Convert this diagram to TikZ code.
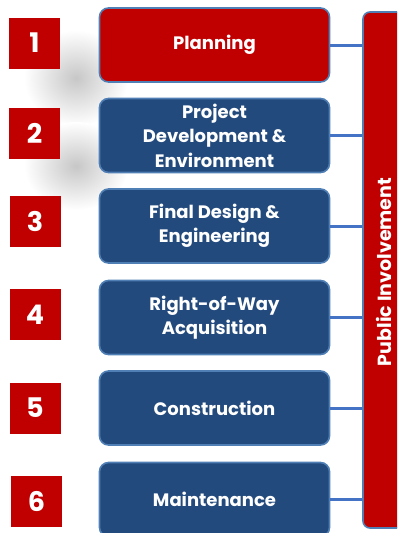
\documentclass[tikz,border=0pt]{standalone}
\usepackage{fontspec}
\setsansfont{Poppins}
\usetikzlibrary{shadings}

\definecolor{stepred}{HTML}{C00000}
\definecolor{stepblue}{HTML}{234A7D}
\definecolor{edgeblue}{HTML}{4F7FB5}
\definecolor{linkblue}{HTML}{4472C4}

\tikzset{
	phase/.style={draw=edgeblue, line width=1.6pt, fill=stepblue, rounded corners=9pt,
		minimum width=230pt, minimum height=74pt, text=white, align=center,
		font=\sffamily\bfseries\fontsize{18}{24.5}\selectfont},
	numbox/.style={fill=stepred, minimum width=51pt, minimum height=51pt, inner sep=0pt,
		text=white, font=\sffamily\bfseries\fontsize{27}{28}\selectfont},
	link/.style={draw=linkblue, line width=3pt}
}

\begin{document}
\begin{tikzpicture}[x=1pt, y=-1pt]

	\useasboundingbox (0,0) rectangle (397,533);
	\clip (0,0) rectangle (397,533);

	% soft shadows behind the numbers
	\shade[inner color=black!22, outer color=white] (76,78) ellipse (52pt and 48pt);
	\shade[inner color=black!22, outer color=white] (76,166) ellipse (52pt and 44pt);

	% phases
	\node[phase, fill=stepred] (plan) at (214.5,45) {Planning};
	\node[phase] (pde) at (214.5,135.5) {Project\\Development \&\\Environment};
	\node[phase] (design) at (214.5,226) {Final Design \&\\Engineering};
	\node[phase] (row) at (214.5,317.5) {Right-of-Way\\Acquisition};
	\node[phase] (build) at (214.5,408) {Construction};
	\node[phase] (maint) at (214.5,499.5) {Maintenance};

	% numbers
	\node[numbox] (n1) at (34.5,43) {1};
	\node[numbox] (n2) at (34.5,133) {2};
	\node[numbox] (n3) at (35,221.5) {3};
	\node[numbox] (n4) at (35,314.5) {4};
	\node[numbox] (n5) at (35,408) {5};
	\node[numbox] (n6) at (36.5,501) {6};

	% public involvement bar
	\node[draw=edgeblue, line width=1.6pt, fill=stepred, rounded corners=7pt,
		minimum width=50pt, minimum height=516pt] (pub) at (388,270) {};
	\node[rotate=90, text=white, inner sep=1pt, font=\sffamily\bfseries\fontsize{19}{21}\selectfont]
		(publbl) at (384,272) {Public Involvement};

	\foreach \p in {plan,pde,design,row,build,maint}
		\draw[link] (\p.east) -- (\p.east -| pub.west);

\end{tikzpicture}
\end{document}
